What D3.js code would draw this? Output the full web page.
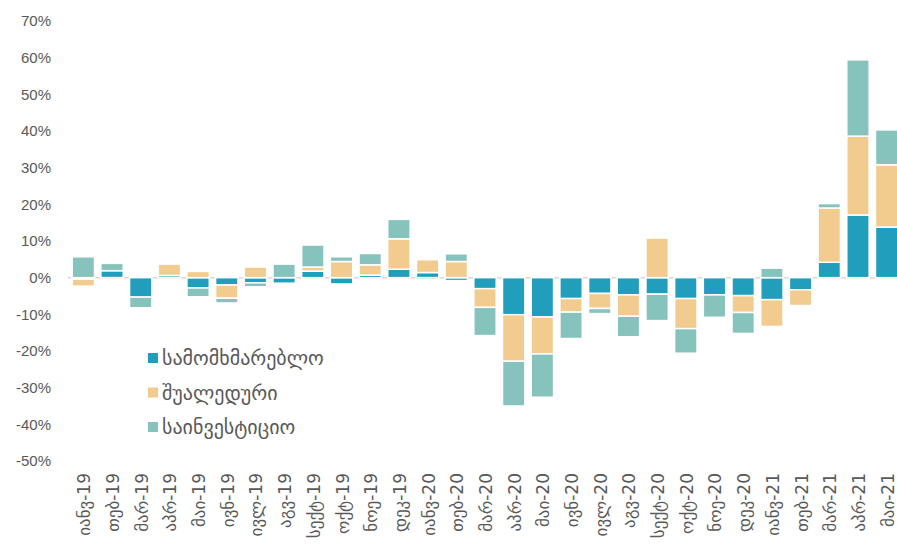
<!DOCTYPE html>
<html>
<head>
<meta charset="utf-8">
<script src="https://cdn.jsdelivr.net/npm/d3@7"></script>
<style>
  html, body { margin: 0; padding: 0; background: #fff; }
  svg { display: block; font-family: "DejaVu Sans", "Liberation Sans", sans-serif; }
</style>
</head>
<body>
<div id="chart"></div>
<script>
// ---------------------------
// DATA (percent)
// ---------------------------
const months = [
  "იანვ-19", "თებ-19", "მარ-19", "აპრ-19", "მაი-19", "ივნ-19", "ივლ-19", "აგვ-19",
  "სექტ-19", "ოქტ-19", "ნოე-19", "დეკ-19", "იანვ-20", "თებ-20", "მარ-20", "აპრ-20",
  "მაი-20", "ივნ-20", "ივლ-20", "აგვ-20", "სექტ-20", "ოქტ-20", "ნოე-20", "დეკ-20",
  "იანვ-21", "თებ-21", "მარ-21", "აპრ-21", "მაი-21"
];
const consumer = [
  -0.4, 1.9, -5.3, 0.6, -2.8, -2.0, -1.4, -1.5,
  1.8, -1.7, 0.7, 2.3, 1.4, -0.8, -3.0, -10.1,
  -10.7, -5.7, -4.3, -4.7, -4.5, -5.7, -4.7, -4.9,
  -6.0, -3.3, 4.2, 17.1, 13.8
];
const intermediate = [
  -1.9, -0.5, 0, 3.1, 1.7, -3.6, 2.9, 0,
  1.1, 4.4, 2.8, 8.3, 3.5, 4.4, -5.1, -12.7,
  -10.1, -3.7, -4.1, -5.8, 10.8, -8.2, 0, -4.6,
  -7.3, -4.3, 14.8, 21.5, 17.0
];
const investment = [
  5.7, 2.0, -2.9, 0, -2.4, -1.3, -1.1, 3.7,
  6.0, 1.3, 3.1, 5.3, -0.5, 2.1, -7.7, -12.2,
  -11.8, -7.2, -1.4, -5.6, -7.2, -6.7, -6.1, -5.7,
  2.6, 0, 1.2, 20.8, 9.5
];
const seriesNames = ["სამომხმარებლო", "შუალედური", "საინვესტიციო"];
const seriesKeys = ["consumer", "intermediate", "investment"];
const seriesColors = ["#219ebc", "#f2cc8f", "#86c3bc"];
const yTicks = [-50, -40, -30, -20, -10, 0, 10, 20, 30, 40, 50, 60, 70];

// ---------------------------
// LAYOUT
// ---------------------------
const width = 897, height = 555;

const svg = d3.select("#chart").append("svg")
  .attr("width", width)
  .attr("height", height);

const rows = months.map((m, i) => ({
  month: m,
  consumer: consumer[i],
  intermediate: intermediate[i],
  investment: investment[i]
}));

const x = d3.scaleBand()
  .domain(months)
  .range([69, 901])
  .paddingInner(0.22)
  .paddingOuter(0.11);

const y = d3.scaleLinear()
  .domain([-50, 70])
  .range([461, 21]);

const stacked = d3.stack()
  .keys(seriesKeys)
  .offset(d3.stackOffsetDiverging)(rows);

// y axis labels (no line)
svg.append("g")
  .selectAll("text")
  .data(yTicks)
  .join("text")
  .attr("x", 51)
  .attr("y", d => y(d))
  .attr("dy", "0.35em")
  .attr("text-anchor", "end")
  .attr("fill", "#595959")
  .style("font-family", "'Liberation Sans', sans-serif")
  .style("font-size", "15px")
  .text(d => d + "%");

// zero line
svg.append("line")
  .attr("x1", 68).attr("x2", width)
  .attr("y1", y(0)).attr("y2", y(0))
  .attr("stroke", "#d9d9d9")
  .attr("stroke-width", 1.5);

// bars
svg.append("g")
  .selectAll("g")
  .data(stacked)
  .join("g")
  .attr("fill", (d, i) => seriesColors[i])
  .selectAll("rect")
  .data(d => d)
  .join("rect")
  .attr("x", d => x(d.data.month))
  .attr("width", x.bandwidth())
  .attr("y", d => y(Math.max(d[0], d[1])))
  .attr("height", d => Math.abs(y(d[0]) - y(d[1])))
  .attr("stroke", "#fff")
  .attr("stroke-width", 1.5);

// x labels, rotated
svg.append("g")
  .selectAll("text")
  .data(months)
  .join("text")
  .attr("transform", d => `translate(${x(d) + x.bandwidth() / 2 + 1},473) rotate(-90)`)
  .attr("dy", "0.35em")
  .attr("text-anchor", "end")
  .attr("fill", "#595959")
  .style("font-size", "17px")
  .text(d => d);

// legend
const legend = svg.append("g")
  .attr("transform", "translate(148,358)");

const item = legend.selectAll("g")
  .data(seriesNames)
  .join("g")
  .attr("transform", (d, i) => `translate(0,${i * 34.5})`);

item.append("rect")
  .attr("x", 0).attr("y", -5)
  .attr("width", 10).attr("height", 10)
  .attr("fill", (d, i) => seriesColors[i]);

item.append("text")
  .attr("x", 14)
  .attr("dy", "0.35em")
  .attr("fill", "#595959")
  .style("font-size", "20px")
  .text(d => d);
</script>
</body>
</html>
